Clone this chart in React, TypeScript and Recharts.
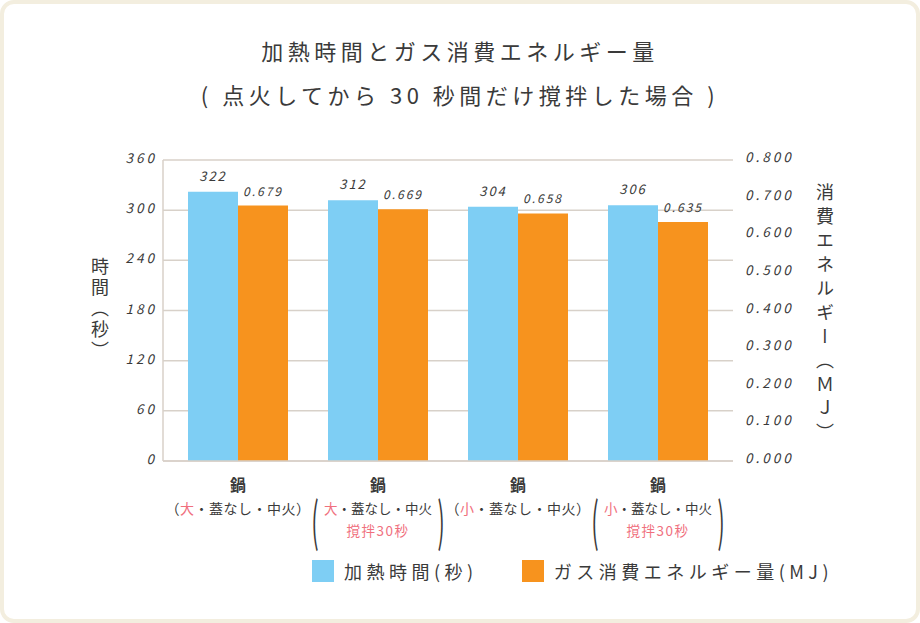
import React from "react";
import { BarChart, Bar, XAxis, YAxis, CartesianGrid, LabelList, Legend } from "recharts";

const sizes = ["大", "大", "小", "小"];
const stirred = [false, true, false, true];
const heatTime = [322, 312, 304, 306];
const gasEnergy = [0.679, 0.669, 0.658, 0.635];
const timeTicks = [0, 60, 120, 180, 240, 300, 360];
const energyTicks = [0, 0.1, 0.2, 0.3, 0.4, 0.5, 0.6, 0.7, 0.8];
const seriesNames = ["加熱時間(秒)", "ガス消費エネルギー量(MJ)"];

const data = sizes.map((s, i) => ({
  name: `鍋-${i}`,
  size: s,
  stirred: stirred[i],
  time: heatTime[i],
  energy: gasEnergy[i],
}));

const FONT = "'Noto Sans CJK JP', 'Noto Sans', sans-serif";
const INK = "#3a3a3a";
const RED = "#f0707e";
const GRID = "#d8d1c9";
const BLUE = "#7ecef4";
const ORANGE = "#f7931e";

const LeftTick = ({ x, y, payload }: any) => (
  <text x={x + 2} y={y - 3} textAnchor="end" dominantBaseline="central" fontFamily={FONT}
    fontSize={13.5} fontStyle="italic" letterSpacing={3} fill={INK}>
    {payload.value}
  </text>
);

const RightTick = ({ x, y, payload }: any) => (
  <text x={x + 4} y={y - 4} textAnchor="start" dominantBaseline="central" fontFamily={FONT}
    fontSize={13.5} fontStyle="italic" letterSpacing={3} fill={INK}>
    {Number(payload.value).toFixed(3)}
  </text>
);

// tall brackets around the two-line labels
const TallParen = ({ x, y, ch }: { x: number; y: number; ch: string }) => (
  <text x={0} y={0} textAnchor="middle" dominantBaseline="central" fontSize={30} fontWeight={400}
    transform={`translate(${x},${y}) scale(0.7,1.75)`}>
    {ch}
  </text>
);

const CategoryTick = ({ x, y, payload }: any) => {
  const d = data[payload.index];
  return (
    <g fontFamily={FONT} fill={INK}>
      <text x={x} y={y + 15} textAnchor="middle" dominantBaseline="central" fontSize={16} fontWeight={700}>
        鍋
      </text>
      {d.stirred ? (
        <>
          <TallParen x={x - 63} y={y + 50} ch="(" />
          <TallParen x={x + 63} y={y + 50} ch=")" />
          <text x={x} y={y + 39} textAnchor="middle" dominantBaseline="central" fontSize={13.5}>
            <tspan fill={RED}>{d.size}</tspan>・蓋なし・中火
          </text>
          <text x={x} y={y + 61} textAnchor="middle" dominantBaseline="central" fontSize={13.5} letterSpacing={1.5} fill={RED}>
            撹拌30秒
          </text>
        </>
      ) : (
        <text x={x} y={y + 39} textAnchor="middle" dominantBaseline="central" fontSize={14} letterSpacing={0.5}>
          （<tspan fill={RED}>{d.size}</tspan>・蓋なし・中火）
        </text>
      )}
    </g>
  );
};

const LegendContent = ({ payload }: any) => {
  const items = [...(payload || [])].sort((a: any, b: any) => seriesNames.indexOf(a.value) - seriesNames.indexOf(b.value));
  return (
    <div style={{ height: 0, overflow: "visible" }}>
      <div style={{ display: "flex", gap: 44, paddingLeft: 312, fontFamily: FONT, color: INK, fontSize: 18, letterSpacing: 4.5, lineHeight: "22px" }}>
        {items.map((p: any) => (
          <div key={p.value} style={{ display: "flex", alignItems: "center" }}>
            <span style={{ width: 22, height: 22, background: p.color, marginRight: 10, display: "inline-block" }} />
            {p.value}
          </div>
        ))}
      </div>
    </div>
  );
};

export default function App() {
  return (
    <div style={{ position: "absolute", left: 0, top: 0, width: 920, height: 623, background: "#fff" }}>
      <div style={{ position: "absolute", inset: 0, border: "4px solid #f3eedf", borderRadius: 14, boxSizing: "border-box" }} />
      <div style={{ position: "absolute", left: 0, top: 28, width: 920, textAlign: "center", fontFamily: FONT, color: INK, fontSize: 22, letterSpacing: 4.5, lineHeight: "44px" }}>
        <div>加熱時間とガス消費エネルギー量</div>
        <div>( 点火してから 30 秒間だけ撹拌した場合 )</div>
      </div>
      <div style={{ position: "absolute", left: 87, top: 257, writingMode: "vertical-rl", fontFamily: FONT, color: INK, fontSize: 18, letterSpacing: 3 }}>
        時間（秒）
      </div>
      <div style={{ position: "absolute", left: 812, top: 183, writingMode: "vertical-rl", fontFamily: FONT, color: INK, fontSize: 18, letterSpacing: 6 }}>
        消費エネルギー（ＭＪ）
      </div>
      <div style={{ position: "absolute", left: 0, top: 0 }}>
        <BarChart width={920} height={623} data={data} margin={{ top: 160, right: 0, bottom: 0, left: 0 }} barGap={0} barSize={50}>
          <CartesianGrid yAxisId="time" vertical={false} stroke={GRID} strokeWidth={1.5} />
          <XAxis dataKey="name" height={162} tick={<CategoryTick />} tickLine={false} interval={0}
            axisLine={{ stroke: GRID, strokeWidth: 1.5 }} padding={{ left: 5, right: 5 }} />
          <YAxis yAxisId="time" width={163} domain={[0, 360]} ticks={timeTicks} tick={<LeftTick />}
            tickLine={false} axisLine={{ stroke: GRID, strokeWidth: 1.5 }} />
          <YAxis yAxisId="energy" orientation="right" width={187} domain={[0, 0.8]} ticks={energyTicks}
            tick={<RightTick />} tickLine={false} axisLine={false} />
          <Bar yAxisId="time" dataKey="time" name={seriesNames[0]} fill={BLUE} isAnimationActive={false}>
            <LabelList dataKey="time" position="top" offset={11} fill={INK} fontFamily={FONT}
              fontSize={13} fontStyle="italic" letterSpacing={2} />
          </Bar>
          <Bar yAxisId="energy" dataKey="energy" name={seriesNames[1]} fill={ORANGE} isAnimationActive={false}>
            <LabelList dataKey="energy" position="top" offset={10} fill={INK} fontFamily={FONT}
              fontSize={12} fontStyle="italic" letterSpacing={2} formatter={(v: any) => Number(v).toFixed(3)} />
          </Bar>
          <Legend content={<LegendContent />} wrapperStyle={{ position: "absolute", left: 0, top: 560, width: 920 }} />
        </BarChart>
      </div>
    </div>
  );
}
